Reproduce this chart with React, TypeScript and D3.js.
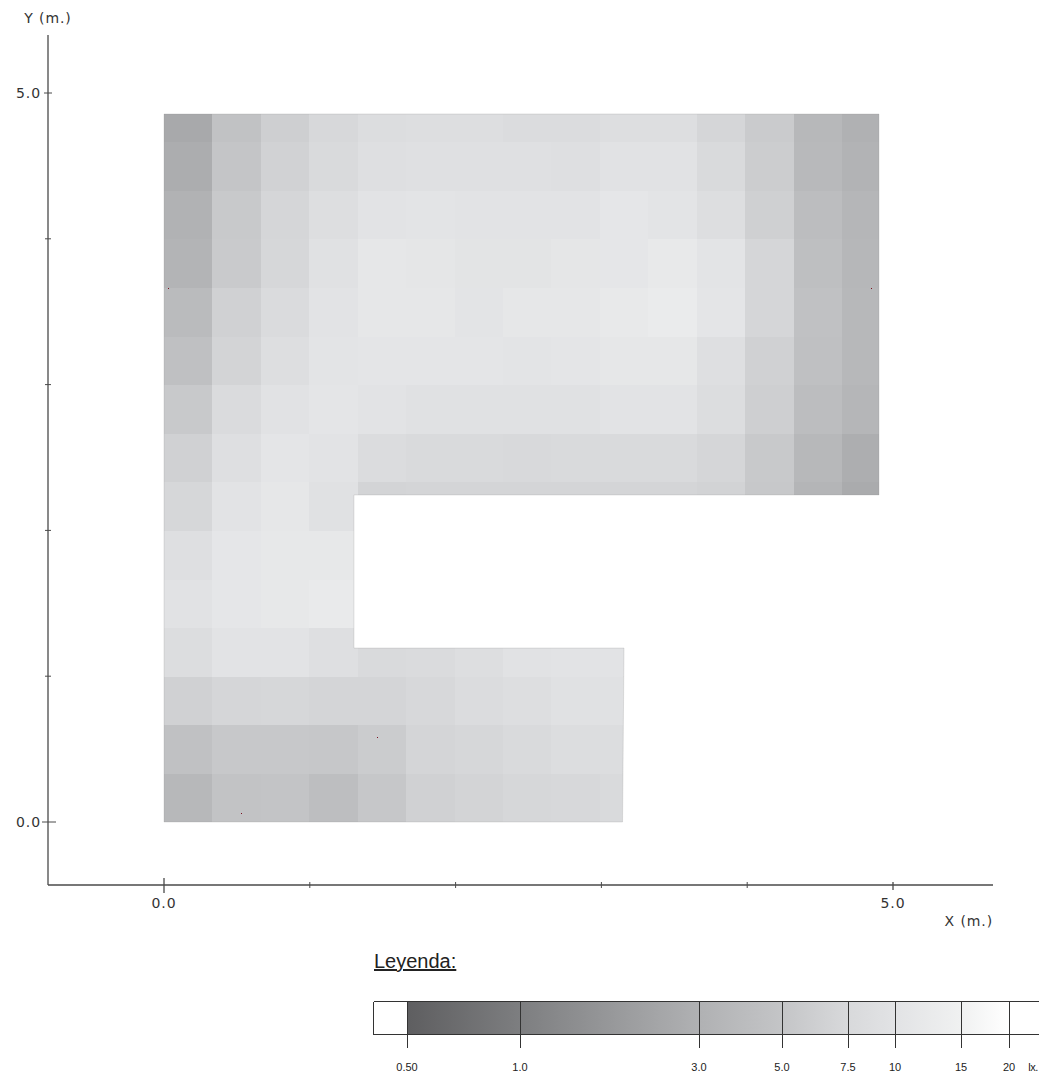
import React from "react";
import * as d3 from "d3";

// Illuminance (lx) per cell, rows listed from the top of the plan down
const row14 = [2.69, 4.7, 6.25, 7.4, 8.5, 8.75, 8.75, 8.25, 8.25, 8.75, 8.75, 7.1, 5.75, 3.7, 3.0];
const row13 = [2.84, 5.0, 6.6, 7.75, 9.0, 9.25, 9.25, 9.25, 9.0, 9.75, 9.75, 7.75, 6.0, 3.8, 3.2];
const row12 = [3.1, 5.5, 7.1, 8.75, 10, 10.4, 10, 10, 10, 11.1, 10.4, 8.75, 6.4, 4.2, 3.5];
const row11 = [3.3, 5.6, 7.25, 9.5, 11.4, 11.0, 10.2, 10.2, 11.0, 11.2, 12.1, 10.4, 7.1, 4.4, 3.6];
const row10 = [4.0, 6.5, 8.0, 10, 11.4, 11.4, 10.5, 11.4, 11.4, 12.1, 12.9, 10.7, 7.1, 4.6, 3.7];
const row9 = [4.5, 6.9, 8.75, 10.4, 10.7, 10.7, 10.7, 10.4, 10.7, 11.4, 11.4, 9.0, 6.5, 4.5, 3.7];
const row8 = [5.5, 8.0, 9.75, 10.7, 10, 9.5, 9.5, 9.5, 9.5, 10, 10, 8.5, 6.25, 4.2, 3.5];
const row7 = [6.5, 9.0, 10.7, 10, 8.25, 7.75, 7.75, 7.5, 7.75, 7.75, 7.75, 7.1, 5.5, 3.7, 2.9];
const row6 = [7.25, 10, 11.4, 9.5, 6.9, 7.0, 7.0, 7.0, 7.0, 7.0, 7.0, 6.75, 5.4, 3.4, 2.76];
const row5 = [9.0, 11.1, 11.8, 11.8];
const row4 = [9.75, 11.1, 11.8, 12.5];
const row3 = [8.5, 10, 10, 9.0, 7.75, 8.0, 8.75, 9.75, 10, 10];
const row2 = [6.5, 7.1, 7.25, 7.0, 7.0, 7.4, 8.25, 8.75, 9.5, 9.5];
const row1 = [4.6, 5.4, 5.4, 5.25, 5.9, 7.0, 7.25, 7.75, 8.5, 8.5];
const row0 = [3.7, 4.8, 4.9, 4.3, 5.25, 6.5, 6.9, 7.25, 7.4, 7.75];
const gridRows = [row0, row1, row2, row3, row4, row5, row6, row7, row8, row9, row10, row11, row12, row13, row14];
const cellWidth = 0.3322;
const cellHeight = 1 / 3;

// Plan outline (m)
const outlineX = [0, 4.904, 4.904, 1.303, 1.303, 3.155, 3.145, 0];
const outlineY = [4.856, 4.856, 2.243, 2.243, 1.193, 1.193, 0, 0];

// Measuring points (m)
const pointX = [0.03, 4.85, 1.46, 0.53];
const pointY = [3.66, 3.66, 0.58, 0.06];

// Axes
const majorTicks = [0, 5];
const minorTicks = [1, 2, 3, 4];
const tickLabels = ["0.0", "5.0"];

// Legend
const legendValues = [0.5, 1, 3, 5, 7.5, 10, 15, 20];
const legendLabels = ["0.50", "1.0", "3.0", "5.0", "7.5", "10", "15", "20"];
const legendColors = ["#5e5e60", "#7d7e80", "#b0b1b3", "#c4c5c7", "#d8d9db", "#e2e3e5", "#f0f1f1", "#ffffff"];
const legendPixels = [407, 520, 699, 782, 848, 895, 961, 1009];

const x = d3.scaleLinear().domain([0, 5]).range([164, 893]);
const y = d3.scaleLinear().domain([0, 5]).range([822, 93]);
const color = d3.scaleLinear<string>().domain(legendValues).range(legendColors).clamp(true);
const legendX = d3.scaleLinear().domain(legendValues).range(legendPixels);

const outlinePath =
  d3.line()(outlineX.map((v, i) => [x(v), y(outlineY[i])] as [number, number])) + "Z";

const axisColor = "#4a4a4a";
const labelFont = "'DejaVu Sans', Verdana, sans-serif";
const legendFont = "'Liberation Sans', Arial, sans-serif";

export default function App() {
  return (
    <svg
      width={1039}
      height={1079}
      style={{ position: "absolute", left: 0, top: 0, display: "block", background: "#fff" }}
    >
      <defs>
        <clipPath id="plan">
          <path d={outlinePath} />
        </clipPath>
        <linearGradient id="ramp" gradientUnits="userSpaceOnUse" x1={legendPixels[0]} x2={legendPixels[7]} y1={0} y2={0}>
          {legendValues.map((v, i) => (
            <stop
              key={v}
              offset={(legendX(v) - legendPixels[0]) / (legendPixels[7] - legendPixels[0])}
              stopColor={legendColors[i]}
            />
          ))}
        </linearGradient>
      </defs>

      {/* Cells */}
      <g clipPath="url(#plan)" shapeRendering="crispEdges">
        {gridRows.map((row, r) =>
          row.map((v, c) => (
            <rect
              key={`${r}-${c}`}
              x={x(c * cellWidth)}
              y={y((r + 1) * cellHeight)}
              width={x((c === 14 ? 5 : (c + 1) * cellWidth)) - x(c * cellWidth) + 0.5}
              height={y(r * cellHeight) - y((r + 1) * cellHeight) + 0.5}
              fill={color(v)}
            />
          ))
        )}
      </g>
      <path d={outlinePath} fill="none" stroke="#8f8f8f" strokeOpacity={0.3} strokeWidth={0.8} />

      {/* Measuring points */}
      {pointX.map((v, i) => (
        <rect key={i} x={Math.round(x(v))} y={Math.round(y(pointY[i]))} width={1} height={1} fill="#7a1020" />
      ))}

      {/* Axes */}
      <g stroke={axisColor} strokeWidth={1.3}>
        <line x1={48} x2={48} y1={35} y2={885} />
        <line x1={48} x2={993} y1={885} y2={885} />
        <line x1={x(majorTicks[0])} x2={x(majorTicks[0])} y1={878} y2={893} />
        <line x1={x(majorTicks[1])} x2={x(majorTicks[1])} y1={882} y2={890} />
        <line x1={42} x2={56} y1={y(majorTicks[0])} y2={y(majorTicks[0])} strokeWidth={1} />
        <line x1={44} x2={52} y1={y(majorTicks[1])} y2={y(majorTicks[1])} strokeWidth={1} />
        {minorTicks.map((t) => (
          <g key={t} strokeWidth={1}>
            <line x1={x(t)} x2={x(t)} y1={882} y2={888} />
            <line x1={45} x2={51} y1={y(t)} y2={y(t)} />
          </g>
        ))}
      </g>
      <g fontFamily={labelFont} fontSize={14} fill="#333" letterSpacing={0.9}>
        <text x={48} y={23} textAnchor="middle">Y (m.)</text>
        <text x={41} y={y(majorTicks[1]) + 5} textAnchor="end">{tickLabels[1]}</text>
        <text x={41} y={y(majorTicks[0]) + 5} textAnchor="end">{tickLabels[0]}</text>
        <text x={x(majorTicks[0])} y={908} textAnchor="middle">{tickLabels[0]}</text>
        <text x={x(majorTicks[1])} y={908} textAnchor="middle">{tickLabels[1]}</text>
        <text x={993} y={926} textAnchor="end">X (m.)</text>
      </g>

      {/* Legend */}
      <text x={374} y={968} fontFamily={legendFont} fontSize={20} fill="#222" textDecoration="underline">
        Leyenda:
      </text>
      <rect x={legendPixels[0]} y={1001} width={legendPixels[7] - legendPixels[0]} height={33} fill="url(#ramp)" />
      <g stroke="#333" strokeWidth={1} fill="none" shapeRendering="crispEdges">
        <line x1={373.5} x2={1039} y1={1001.5} y2={1001.5} />
        <line x1={373.5} x2={1039} y1={1034.5} y2={1034.5} />
        <line x1={373.5} x2={373.5} y1={1001.5} y2={1034.5} />
        {legendValues.map((v) => (
          <line key={v} x1={Math.round(legendX(v)) + 0.5} x2={Math.round(legendX(v)) + 0.5} y1={1001.5} y2={1048} />
        ))}
      </g>
      <g fontFamily={legendFont} fontSize={11} fill="#222" textAnchor="middle">
        {legendValues.map((v, i) => (
          <text key={v} x={legendX(v)} y={1071}>{legendLabels[i]}</text>
        ))}
        <text x={1033} y={1071} letterSpacing={-0.5}>lx.</text>
      </g>
    </svg>
  );
}
